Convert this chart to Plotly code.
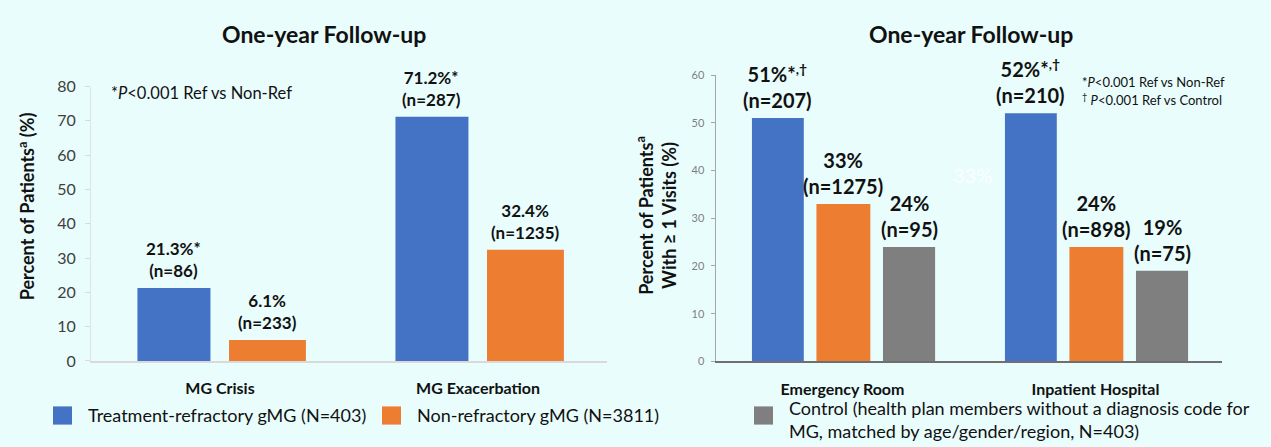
import plotly.graph_objects as go

W, H = 1271, 447
BG = "#E9FDFD"
FONT = "Lato"

# ---------------- data ----------------
series_names = ["Treatment-refractory gMG (N=403)", "Non-refractory gMG (N=3811)",
                "Control (health plan members without a diagnosis code for<br>MG, matched by age/gender/region, N=403)"]
colors = ["#4472C4", "#ED7D31", "#7F7F7F"]

left_categories = ["MG Crisis", "MG Exacerbation"]
left_refractory = [21.3, 71.2]
left_nonrefractory = [6.1, 32.4]
left_refractory_lbl = ["21.3%*<br>(n=86)", "71.2%*<br>(n=287)"]
left_nonrefractory_lbl = ["6.1%<br>(n=233)", "32.4%<br>(n=1235)"]

right_categories = ["Emergency Room", "Inpatient Hospital"]
right_refractory = [51, 52]
right_nonrefractory = [33, 24]
right_control = [24, 19]
right_refractory_lbl = ["51%*<sup>,†</sup><br>(n=207)", "52%*<sup>,†</sup><br>(n=210)"]
right_nonrefractory_lbl = ["33%<br>(n=1275)", "24%<br>(n=898)"]
right_control_lbl = ["24%<br>(n=95)", "19%<br>(n=75)"]

left_ticks = [0, 10, 20, 30, 40, 50, 60, 70, 80]
right_ticks = [0, 10, 20, 30, 40, 50, 60]


def px_x(x):
    return x / W


def px_y(y):
    return 1 - y / H


fig = go.Figure()

# bar geometry (style, in category units)
left_geom = [(-0.32, 0.283), (0.035, 0.298)]
right_geom = [(-0.358, 0.205), (-0.103, 0.213), (0.160, 0.206)]

left_series = [left_refractory, left_nonrefractory]
left_labels = [left_refractory_lbl, left_nonrefractory_lbl]
for i, (vals, (off, wd)) in enumerate(zip(left_series, left_geom)):
    fig.add_trace(go.Bar(x=left_categories, y=vals, offset=off, width=wd,
                         marker=dict(color=colors[i], line=dict(width=0)),
                         name=series_names[i], showlegend=False,
                         xaxis="x", yaxis="y", hoverinfo="skip"))

right_series = [right_refractory, right_nonrefractory, right_control]
right_labels = [right_refractory_lbl, right_nonrefractory_lbl, right_control_lbl]
for i, (vals, (off, wd)) in enumerate(zip(right_series, right_geom)):
    fig.add_trace(go.Bar(x=right_categories, y=vals, offset=off, width=wd,
                         marker=dict(color=colors[i], line=dict(width=0)),
                         name=series_names[i], showlegend=False,
                         xaxis="x2", yaxis="y2", hoverinfo="skip"))

annotations = []

for vals, lbls, (off, wd) in zip(left_series, left_labels, left_geom):
    for j, (v, t) in enumerate(zip(vals, lbls)):
        annotations.append(dict(x=j + off + wd / 2, y=v, xref="x", yref="y", text=t,
                                showarrow=False, yanchor="bottom", yshift=5,
                                font=dict(family=FONT, size=17, color="#111111", weight="bold")))
for vals, lbls, (off, wd) in zip(right_series, right_labels, right_geom):
    for j, (v, t) in enumerate(zip(vals, lbls)):
        annotations.append(dict(x=j + off + wd / 2, y=v, xref="x2", yref="y2", text=t,
                                showarrow=False, yanchor="bottom", yshift=4,
                                font=dict(family=FONT, size=20, color="#111111", weight="bold")))

# titles
for cx in (324, 971):
    annotations.append(dict(x=px_x(cx), y=px_y(25), xref="paper", yref="paper",
                            text="One-year Follow-up", showarrow=False,
                            xanchor="center", yanchor="middle",
                            font=dict(family=FONT, size=23, color="#111111", weight="bold")))

# notes
annotations.append(dict(x=px_x(109), y=px_y(87), xref="paper", yref="paper",
                        text="*<i>P</i><0.001 Ref vs Non-Ref", showarrow=False,
                        xanchor="left", yanchor="middle",
                        font=dict(family=FONT, size=16.5, color="#111111")))
annotations.append(dict(x=px_x(1080), y=px_y(75), xref="paper", yref="paper",
                        text="*<i>P</i><0.001 Ref vs Non-Ref", showarrow=False,
                        xanchor="left", yanchor="middle",
                        font=dict(family=FONT, size=13, color="#111111")))
annotations.append(dict(x=px_x(1080), y=px_y(93), xref="paper", yref="paper",
                        text="<sup>†</sup> <i>P</i><0.001 Ref vs Control", showarrow=False,
                        xanchor="left", yanchor="middle",
                        font=dict(family=FONT, size=13, color="#111111")))

# faint ghost label
annotations.append(dict(x=px_x(972), y=px_y(172), xref="paper", yref="paper",
                        text="33%", showarrow=False, xanchor="center", yanchor="middle",
                        font=dict(family=FONT, size=20, color="rgba(255,255,255,0.9)")))

# y-axis titles
annotations.append(dict(x=px_x(27), y=px_y(205), xref="paper", yref="paper",
                        text="Percent of Patients<sup>a</sup> (%)", textangle=-90,
                        showarrow=False, xanchor="center", yanchor="middle",
                        font=dict(family=FONT, size=18, color="#111111", weight="bold")))
annotations.append(dict(x=px_x(657), y=px_y(215), xref="paper", yref="paper",
                        text="Percent of Patients<sup>a</sup><br>With ≥ 1 Visits (%)", textangle=-90,
                        showarrow=False, xanchor="center", yanchor="middle",
                        font=dict(family=FONT, size=18, color="#111111", weight="bold")))

# legend (squares + texts)
shapes = []
legend_items = [(53, 86, 423), (382, 415, 423), (754, 787, 428)]
for i, (sx, tx, ty) in enumerate(legend_items):
    shapes.append(dict(type="rect", xref="paper", yref="paper",
                       x0=px_x(sx), x1=px_x(sx + 19), y0=px_y(433), y1=px_y(414),
                       fillcolor=colors[i], line=dict(width=0)))
    annotations.append(dict(x=px_x(tx), y=px_y(ty), xref="paper", yref="paper",
                            text=series_names[i], showarrow=False, align="left",
                            xanchor="left", yanchor="middle",
                            font=dict(family=FONT, size=18, color="#111111")))

cat_font = dict(family=FONT, size=16, color="#111111", weight="bold")

fig.update_layout(
    width=W, height=H,
    margin=dict(l=0, r=0, t=0, b=0),
    paper_bgcolor=BG, plot_bgcolor=BG,
    barmode="overlay",
    showlegend=False,
    annotations=annotations,
    shapes=shapes,
    xaxis=dict(domain=[px_x(91), px_x(607)], anchor="y", type="category",
               range=[-0.5, 1.5], showline=True, linecolor="#D9D9D9", linewidth=2,
               ticks="", tickfont=cat_font, ticklabelstandoff=12, showgrid=False,
               zeroline=False, fixedrange=True),
    yaxis=dict(domain=[px_y(366.5), px_y(80)], anchor="x", range=[0, 80],
               tickvals=left_ticks, showline=True, linecolor="#E3E3E3", linewidth=1,
               ticks="outside", ticklen=5, tickcolor="#D9D9D9", tickwidth=1,
               tickfont=dict(family=FONT, size=16, color="#404040"),
               showgrid=False, zeroline=False, ticklabelstandoff=6, fixedrange=True),
    xaxis2=dict(domain=[px_x(716), px_x(1222)], anchor="y2", type="category",
                range=[-0.5, 1.5], showline=True, linecolor="#6F6F6F", linewidth=2,
                ticks="", tickfont=cat_font, ticklabelstandoff=12, showgrid=False,
                zeroline=False, fixedrange=True),
    yaxis2=dict(domain=[px_y(367), px_y(68)], anchor="x2", range=[0, 60],
                tickvals=right_ticks, showline=True, linecolor="#A6A6A6", linewidth=1.5,
                ticks="outside", ticklen=4, tickcolor="#A6A6A6", tickwidth=1,
                tickfont=dict(family=FONT, size=11, color="#7F7F7F"),
                showgrid=False, zeroline=False, ticklabelstandoff=4, fixedrange=True),
)

fig.write_html("out.html",
               config={"displayModeBar": False, "staticPlot": True},
               post_script="document.body.style.margin='0px';document.body.style.overflow='hidden';document.body.style.background='" + BG + "';")
